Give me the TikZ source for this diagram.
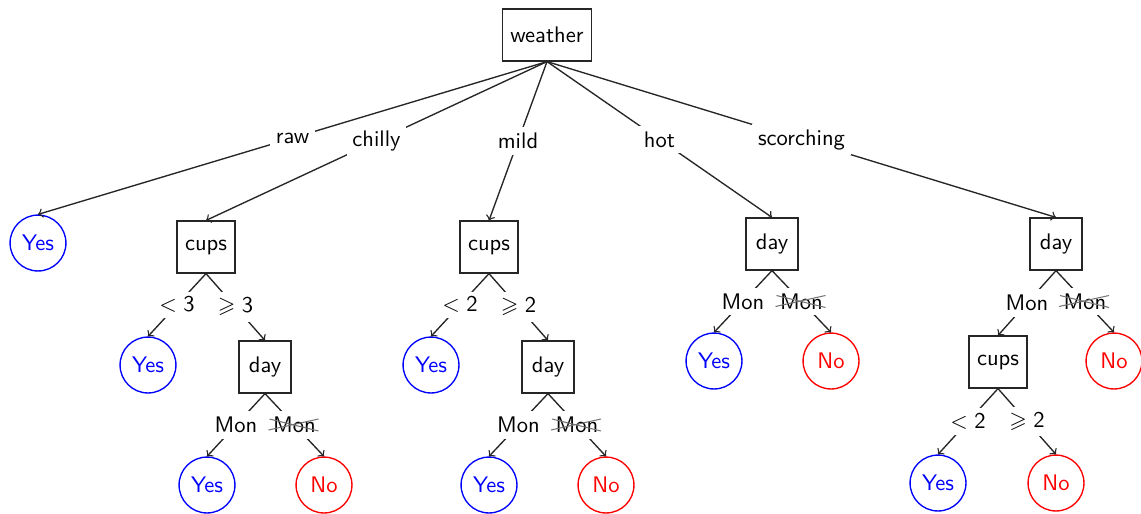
\documentclass[tikz,border=0pt]{standalone}
\usepackage{amssymb}
\usetikzlibrary{calc}
\begin{document}
\begin{tikzpicture}[x=0.0156cm, y=-0.0156cm, font=\sffamily,
  test/.style={draw=black!85, line width=0.6pt, rectangle, minimum width=23pt,
    minimum height=23pt, inner xsep=3.5pt},
  yesleaf/.style={draw=blue, text=blue, line width=0.6pt, circle, minimum size=24.8pt, inner sep=0pt},
  noleaf/.style={draw=red, text=red, line width=0.6pt, circle, minimum size=24.8pt, inner sep=0pt},
  branch/.style={->, line width=0.6pt, draw=black!85},
  lab/.style={fill=white, inner sep=2.5pt},
  strike/.style={draw=black!55, line width=0.45pt}]
\useasboundingbox (0,0) rectangle (1141,513);

% decision nodes
\node[test] (w)  at (547,35)  {weather};
\node[test] (c1) at (206,247) {cups};
\node[test] (c2) at (489,247) {cups};
\node[test] (d1) at (772,244) {day};
\node[test] (d2) at (1056,244) {day};
\node[test] (d3) at (265,367) {day};
\node[test] (d4) at (548,367) {day};
\node[test] (c3) at (998,362) {cups};

% leaves
\node[yesleaf] (y0) at (38,243)  {Yes};
\node[yesleaf] (y1) at (148,365) {Yes};
\node[yesleaf] (y2) at (207,485) {Yes};
\node[noleaf]  (n1) at (324,485) {No};
\node[yesleaf] (y3) at (431,365) {Yes};
\node[yesleaf] (y4) at (489,485) {Yes};
\node[noleaf]  (n2) at (606,485) {No};
\node[yesleaf] (y5) at (714,361) {Yes};
\node[noleaf]  (n3) at (831,361) {No};
\node[noleaf]  (n4) at (1114,361) {No};
\node[yesleaf] (y6) at (938,483) {Yes};
\node[noleaf]  (n5) at (1056,483) {No};

% weather split
\draw[branch] (w.south) -- node[lab] {raw} (y0.north);
\draw[branch] (w.south) -- node[lab] {chilly} (c1.north);
\draw[branch] (w.south) -- node[lab] {mild} (c2.north);
\draw[branch] (w.south) -- node[lab] {hot} (d1.north);
\draw[branch] (w.south) -- node[lab] {scorching} (d2.north);

% cups splits
\draw[branch] (c1.south) -- node[lab] {$<\mathsf{3}$} (y1.north);
\draw[branch] (c1.south) -- node[lab] {$\geqslant \mathsf{3}$} (d3.north);
\draw[branch] (c2.south) -- node[lab] {$<\mathsf{2}$} (y3.north);
\draw[branch] (c2.south) -- node[lab] {$\geqslant \mathsf{2}$} (d4.north);
\draw[branch] (c3.south) -- node[lab] {$<\mathsf{2}$} (y6.north);
\draw[branch] (c3.south) -- node[lab] {$\geqslant \mathsf{2}$} (n5.north);

% day splits
\draw[branch] (d3.south) -- node[lab] {Mon} (y2.north);
\draw[branch] (d3.south) -- node[lab] (m1) {Mon} (n1.north);
\draw[branch] (d4.south) -- node[lab] {Mon} (y4.north);
\draw[branch] (d4.south) -- node[lab] (m2) {Mon} (n2.north);
\draw[branch] (d1.south) -- node[lab] {Mon} (y5.north);
\draw[branch] (d1.south) -- node[lab] (m3) {Mon} (n3.north);
\draw[branch] (d2.south) -- node[lab] {Mon} (c3.north);
\draw[branch] (d2.south) -- node[lab] (m4) {Mon} (n4.north);

% crossing strokes over the negated labels
\foreach \m in {m1,m2,m3,m4} {
  \draw[strike] ($(\m.center)+(-26,5)$) -- ($(\m.center)+(24,-6)$);
  \draw[strike] ($(\m.center)+(-25,-6)$) -- ($(\m.center)+(24,6)$);
}
\end{tikzpicture}
\end{document}
